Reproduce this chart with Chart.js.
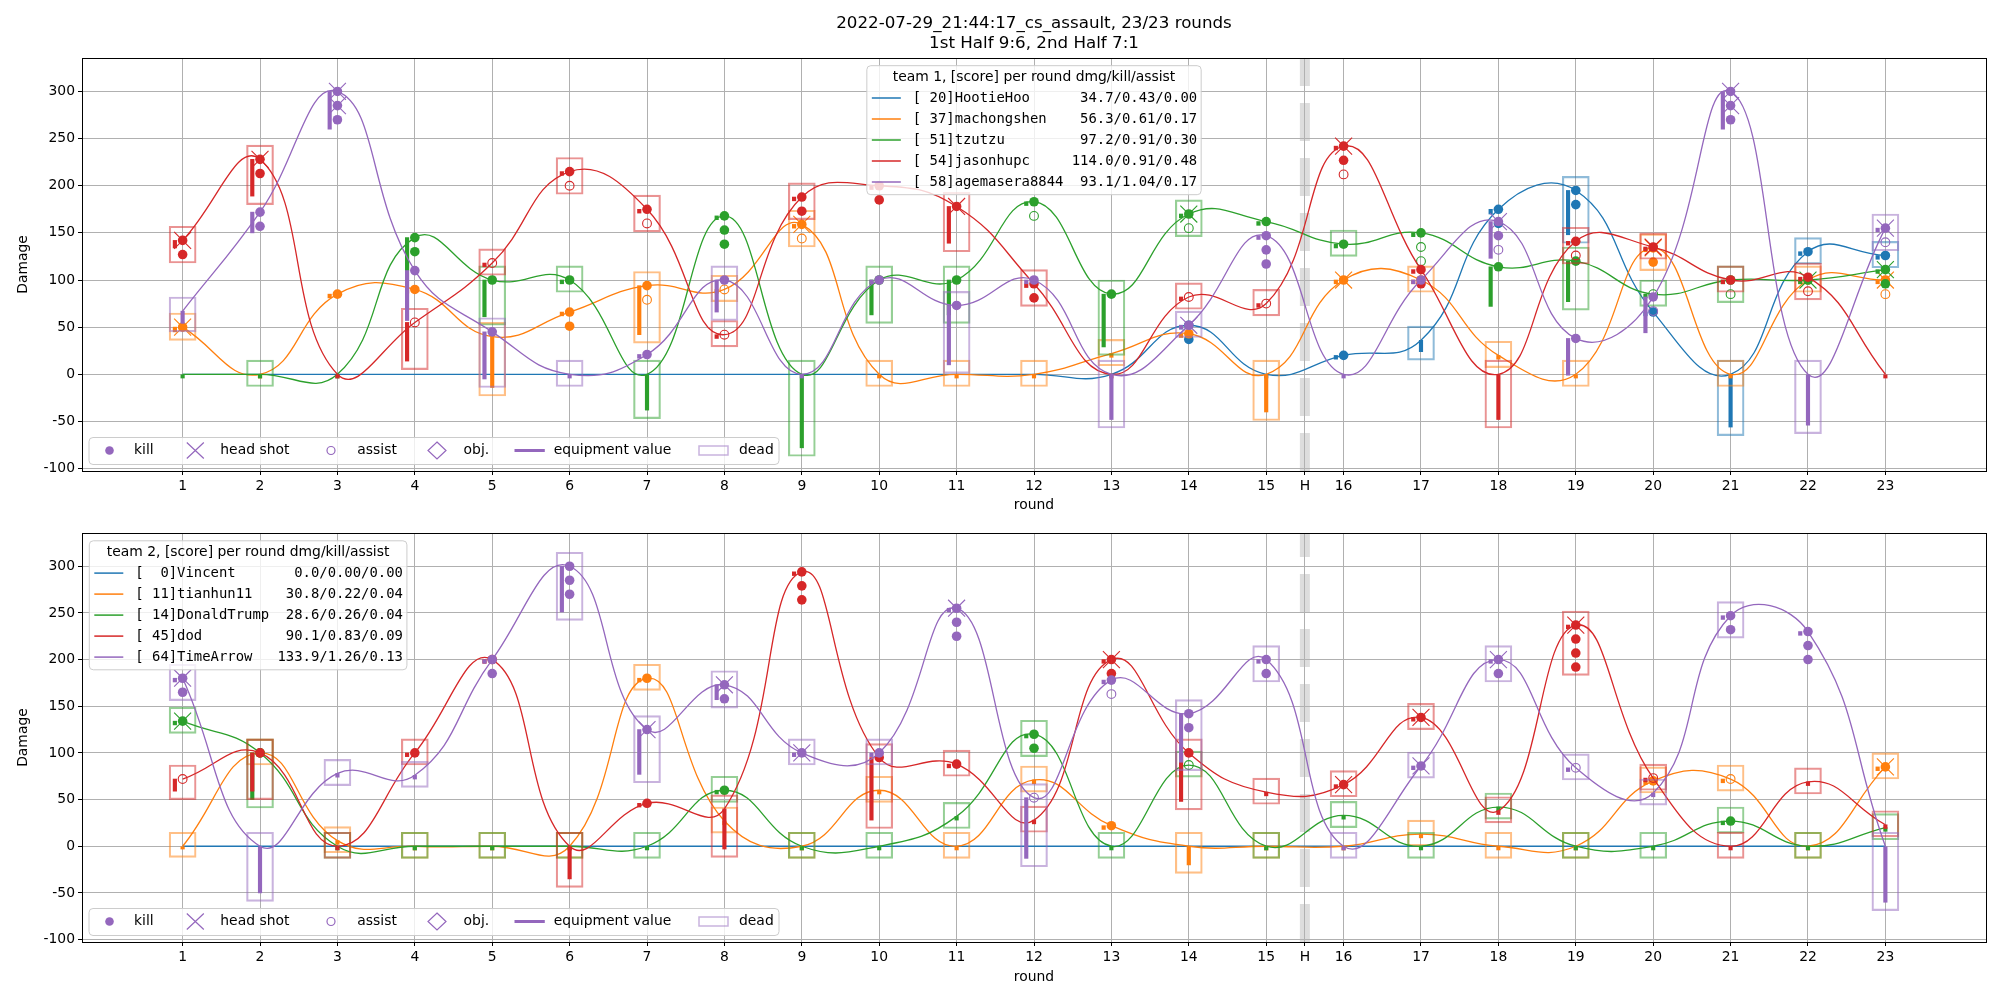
<!DOCTYPE html>
<html>
<head>
<meta charset="utf-8">
<script src="https://cdn.jsdelivr.net/npm/chart.js@4.4.1/dist/chart.umd.min.js"></script>
<style>
    body { margin: 0; background: #fff; }
    #wrap { position: relative; width: 2000px; height: 1000px; }
    .panel { position: absolute; left: 0; width: 2000px; }
</style>
</head>
<body>
<div id="wrap">
    <div class="panel" style="top:0;height:520px"><canvas id="team1" width="2000" height="520"></canvas></div>
    <div class="panel" style="top:520px;height:480px"><canvas id="team2" width="2000" height="480"></canvas></div>
</div>
<script>
// rounds and axis ticks
const rounds = [1, 2, 3, 4, 5, 6, 7, 8, 9, 10, 11, 12, 13, 14, 15, 16, 17, 18, 19, 20, 21, 22, 23];
const xTicks = [1, 2, 3, 4, 5, 6, 7, 8, 9, 10, 11, 12, 13, 14, 15, 15.5, 16, 17, 18, 19, 20, 21, 22, 23];
const xTickLabels = ['1', '2', '3', '4', '5', '6', '7', '8', '9', '10', '11', '12', '13', '14', '15', 'H', '16', '17', '18', '19', '20', '21', '22', '23'];
const yTicks = [-100, -50, 0, 50, 100, 150, 200, 250, 300];
const halfTime = 15.5;

const titleLines = ['2022-07-29_21:44:17_cs_assault, 23/23 rounds', '1st Half 9:6, 2nd Half 7:1'];
const markerLabels = ['kill', 'head shot', 'assist', 'obj.', 'equipment value', 'dead'];

const colors = ['#1f77b4', '#ff7f0e', '#2ca02c', '#d62728', '#9467bd'];
const faintColors = ['rgba(31,119,180,0.5)', 'rgba(255,127,14,0.5)', 'rgba(44,160,44,0.5)', 'rgba(214,39,40,0.5)', 'rgba(148,103,189,0.5)'];

// team 1
const t1Title = 'team 1, [score] per round dmg/kill/assist';
const t1Labels = [
    '[ 20]HootieHoo      34.7/0.43/0.00',
    '[ 37]machongshen    56.3/0.61/0.17',
    '[ 51]tzutzu         97.2/0.91/0.30',
    '[ 54]jasonhupc     114.0/0.91/0.48',
    '[ 58]agemasera8844  93.1/1.04/0.17'
];
const t1Dmg = [
    [0, 0, 0, 0, 0, 0, 0, 0, 0, 0, 0, 0, 0, 52, 0, 20, 36, 175, 195, 66, 0, 130, 126],
    [50, 0, 85, 90, 40, 66, 94, 90, 159, 0, 0, 0, 22, 43, 0, 100, 100, 20, 0, 134, 0, 100, 100],
    [0, 0, 0, 145, 100, 100, 0, 168, 0, 100, 100, 183, 85, 170, 162, 138, 150, 114, 120, 85, 100, 100, 111],
    [142, 228, 0, 55, 118, 215, 175, 42, 188, 200, 178, 96, 0, 82, 75, 242, 111, 0, 141, 135, 100, 103, 0],
    [67, 172, 300, 110, 45, 0, 21, 100, 0, 100, 73, 100, 0, 52, 147, 0, 100, 162, 38, 82, 300, 0, 155]
];
const t1Kills = [
    [0, 0, 0, 0, 0, 0, 0, 0, 0, 0, 0, 0, 0, 2, 0, 1, 0, 2, 2, 1, 0, 1, 1],
    [1, 0, 1, 1, 0, 2, 1, 0, 1, 0, 0, 0, 0, 1, 0, 1, 1, 0, 0, 2, 0, 1, 1],
    [0, 0, 0, 2, 1, 1, 0, 3, 0, 1, 1, 1, 1, 1, 1, 1, 1, 1, 1, 0, 1, 1, 2],
    [2, 2, 0, 0, 0, 1, 1, 0, 2, 2, 1, 2, 0, 0, 0, 2, 2, 0, 1, 1, 1, 1, 0],
    [0, 2, 3, 1, 1, 0, 1, 1, 0, 1, 1, 1, 0, 1, 3, 0, 1, 2, 1, 1, 3, 0, 1]
];
const t1Hs = [
    [0, 0, 0, 0, 0, 0, 0, 0, 0, 0, 0, 0, 0, 0, 0, 0, 0, 0, 0, 0, 0, 0, 0],
    [1, 0, 0, 0, 0, 0, 0, 0, 1, 0, 0, 0, 0, 0, 0, 1, 0, 0, 0, 1, 0, 0, 1],
    [0, 0, 0, 0, 0, 0, 0, 0, 0, 0, 0, 0, 0, 1, 0, 0, 0, 0, 0, 0, 0, 1, 1],
    [1, 1, 0, 0, 0, 0, 0, 0, 0, 0, 1, 0, 0, 0, 0, 1, 0, 0, 0, 1, 0, 0, 0],
    [0, 0, 2, 0, 0, 0, 0, 0, 0, 0, 0, 0, 0, 1, 0, 0, 0, 1, 0, 0, 2, 0, 1]
];
const t1Assist = [
    [0, 0, 0, 0, 0, 0, 0, 0, 0, 0, 0, 0, 0, 0, 0, 0, 0, 0, 0, 0, 0, 0, 0],
    [0, 0, 0, 0, 0, 0, 1, 1, 1, 0, 0, 0, 0, 0, 0, 0, 0, 0, 0, 0, 0, 0, 1],
    [0, 0, 0, 0, 0, 0, 0, 0, 0, 0, 0, 1, 0, 1, 0, 0, 2, 0, 0, 1, 1, 0, 0],
    [0, 0, 0, 1, 1, 1, 1, 1, 0, 0, 0, 0, 0, 1, 1, 1, 0, 0, 1, 0, 0, 1, 0],
    [0, 0, 0, 0, 0, 0, 0, 0, 0, 0, 0, 0, 0, 0, 0, 0, 0, 1, 0, 1, 0, 0, 1]
];
const t1Dead = [
    [0, 0, 0, 0, 0, 0, 0, 0, 0, 0, 0, 0, 0, 0, 0, 0, 1, 0, 1, 0, 1, 1, 1],
    [1, 0, 0, 0, 1, 0, 1, 1, 1, 1, 1, 1, 1, 0, 1, 0, 1, 1, 1, 1, 1, 1, 0],
    [0, 1, 0, 0, 1, 1, 1, 0, 1, 1, 1, 0, 1, 1, 0, 1, 0, 0, 1, 1, 1, 0, 0],
    [1, 1, 0, 1, 1, 1, 1, 1, 1, 0, 1, 1, 0, 1, 1, 0, 0, 1, 1, 1, 1, 1, 0],
    [1, 0, 0, 0, 1, 1, 0, 1, 0, 0, 1, 0, 1, 1, 0, 0, 0, 0, 0, 0, 0, 1, 1]
];
// equipment value / 100, drawn in damage units
const t1Equip = [
    [0, 0, 0, 0, 0, 0, 0, 0, 0, 0, 0, 0, 0, 4, 4, 4, 12, 5, 47, 4, 56, 4, 4],
    [5, 4, 4, 4, 54, 4, 52, 4, 4, 4, 4, 4, 4, 4, 40, 4, 4, 4, 4, 4, 4, 4, 4],
    [4, 4, 4, 35, 39, 4, 38, 4, 78, 37, 37, 4, 56, 4, 4, 4, 4, 42, 43, 4, 4, 4, 4],
    [8, 39, 4, 41, 4, 4, 4, 4, 4, 4, 39, 4, 4, 4, 4, 4, 4, 48, 4, 4, 4, 4, 4],
    [13, 22, 40, 53, 50, 4, 4, 34, 4, 4, 63, 4, 48, 4, 4, 4, 4, 39, 39, 38, 40, 54, 4]
];

// team 2
const t2Title = 'team 2, [score] per round dmg/kill/assist';
const t2Labels = [
    '[  0]Vincent       0.0/0.00/0.00',
    '[ 11]tianhun11    30.8/0.22/0.04',
    '[ 14]DonaldTrump  28.6/0.26/0.04',
    '[ 45]dod          90.1/0.83/0.09',
    '[ 64]TimeArrow   133.9/1.26/0.13'
];
const t2Dmg = [
    [0, 0, 0, 0, 0, 0, 0, 0, 0, 0, 0, 0, 0, 0, 0, 0, 0, 0, 0, 0, 0, 0, 0],
    [0, 100, 6, 0, 0, 0, 180, 27, 0, 60, 0, 71, 22, 0, 0, 0, 13, 0, 0, 70, 72, 0, 85],
    [134, 100, 0, 0, 0, 0, 0, 60, 0, 0, 32, 120, 0, 87, 0, 33, 0, 42, 0, 0, 27, 0, 20],
    [72, 100, 0, 100, 200, 0, 46, 40, 294, 95, 88, 28, 200, 100, 58, 66, 138, 38, 237, 73, 0, 69, 23],
    [180, 0, 78, 76, 200, 300, 125, 173, 100, 100, 255, 52, 178, 142, 200, 0, 86, 200, 84, 57, 247, 230, 0]
];
const t2Kills = [
    [0, 0, 0, 0, 0, 0, 0, 0, 0, 0, 0, 0, 0, 0, 0, 0, 0, 0, 0, 0, 0, 0, 0],
    [0, 1, 0, 0, 0, 0, 1, 0, 0, 0, 0, 0, 1, 0, 0, 0, 0, 0, 0, 1, 0, 0, 1],
    [1, 1, 0, 0, 0, 0, 0, 1, 0, 0, 0, 2, 0, 0, 0, 0, 0, 0, 0, 0, 1, 0, 0],
    [0, 1, 0, 1, 1, 0, 1, 0, 3, 1, 1, 0, 2, 1, 0, 1, 1, 0, 4, 0, 0, 0, 0],
    [2, 0, 0, 0, 2, 3, 1, 2, 1, 1, 3, 0, 1, 2, 2, 0, 1, 2, 0, 0, 2, 3, 0]
];
const t2Hs = [
    [0, 0, 0, 0, 0, 0, 0, 0, 0, 0, 0, 0, 0, 0, 0, 0, 0, 0, 0, 0, 0, 0, 0],
    [0, 0, 0, 0, 0, 0, 0, 0, 0, 0, 0, 0, 0, 0, 0, 0, 0, 0, 0, 0, 0, 0, 1],
    [1, 0, 0, 0, 0, 0, 0, 0, 0, 0, 0, 0, 0, 0, 0, 0, 0, 0, 0, 0, 0, 0, 0],
    [0, 0, 0, 0, 0, 0, 0, 0, 0, 0, 0, 0, 1, 0, 0, 1, 1, 0, 1, 0, 0, 0, 0],
    [1, 0, 0, 0, 0, 0, 1, 1, 1, 0, 1, 0, 0, 0, 0, 0, 1, 1, 0, 0, 0, 0, 0]
];
const t2Assist = [
    [0, 0, 0, 0, 0, 0, 0, 0, 0, 0, 0, 0, 0, 0, 0, 0, 0, 0, 0, 0, 0, 0, 0],
    [0, 0, 0, 0, 0, 0, 0, 0, 0, 0, 0, 0, 0, 0, 0, 0, 0, 0, 0, 0, 1, 0, 0],
    [0, 0, 0, 0, 0, 0, 0, 0, 0, 0, 0, 0, 0, 1, 0, 0, 0, 0, 0, 0, 0, 0, 0],
    [1, 0, 0, 0, 0, 0, 0, 0, 0, 0, 0, 0, 0, 0, 0, 0, 0, 0, 0, 1, 0, 0, 0],
    [0, 0, 0, 0, 0, 0, 0, 0, 0, 0, 0, 1, 1, 0, 0, 0, 0, 0, 1, 0, 0, 0, 0]
];
const t2Dead = [
    [0, 0, 0, 0, 0, 0, 0, 0, 0, 0, 0, 0, 0, 0, 0, 0, 0, 0, 0, 0, 0, 0, 0],
    [1, 1, 1, 1, 1, 1, 1, 1, 1, 1, 1, 1, 0, 1, 1, 0, 1, 1, 1, 1, 1, 1, 1],
    [1, 1, 1, 1, 1, 1, 1, 1, 1, 1, 1, 1, 1, 1, 1, 1, 1, 1, 1, 1, 1, 1, 1],
    [1, 1, 1, 1, 0, 1, 0, 1, 0, 1, 1, 1, 0, 1, 1, 1, 1, 1, 1, 1, 1, 1, 1],
    [1, 1, 1, 1, 0, 1, 1, 1, 1, 1, 0, 1, 0, 1, 1, 1, 1, 1, 1, 1, 1, 0, 1]
];
const t2Equip = [
    [0, 0, 0, 0, 0, 0, 0, 0, 0, 0, 0, 0, 0, 0, 0, 0, 0, 0, 0, 0, 0, 0, 0],
    [3, 4, 4, 4, 4, 4, 4, 4, 4, 4, 4, 4, 4, 20, 4, 4, 4, 4, 4, 4, 4, 4, 4],
    [4, 50, 4, 4, 4, 4, 4, 4, 4, 4, 4, 4, 4, 4, 4, 4, 4, 4, 4, 4, 4, 4, 4],
    [13, 41, 4, 4, 4, 35, 4, 43, 4, 67, 4, 4, 4, 52, 4, 4, 4, 4, 4, 4, 4, 4, 4],
    [4, 50, 4, 4, 4, 49, 48, 16, 4, 4, 4, 65, 4, 52, 4, 4, 4, 4, 4, 4, 4, 4, 60]
];

const markStep = 15;     // spacing of stacked kill/assist markers (damage units)
const equipShift = 0.1;  // equipment bar moves left when markers sit on the round
const FONT = '"DejaVu Sans", sans-serif';
const MONO = '"DejaVu Sans Mono", monospace';

Chart.defaults.font.family = FONT;
Chart.defaults.font.size = 13.9;
Chart.defaults.color = '#000';

function buildDatasets(dmg, kills, hs, assist, dead, equip) {
    const sets = [];
    let seq = 0;
    dmg.forEach((row, p) => {
        const killPts = [], hsPts = [], assistPts = [], equipBars = [], deadBars = [];
        rounds.forEach((r, i) => {
            const d = row[i];
            const k = kills[p][i], a = assist[p][i], e = equip[p][i];
            for (let j = 0; j < k; j++) killPts.push({ x: r, y: d - markStep * j });
            for (let j = 0; j < hs[p][i]; j++) hsPts.push({ x: r, y: d - markStep * j });
            for (let j = 0; j < a; j++) assistPts.push({ x: r, y: d - markStep * (k + j) });
            if (e > 0) equipBars.push({ x: (k + a) ? r - equipShift : r, y: [d - e, d] });
            if (dead[p][i]) {
                const low = Math.min(d - markStep * Math.max(k + a - 1, 0), d - e);
                deadBars.push({ x: r, y: [low - 9, d + 15] });
            }
        });
        sets.push({
            type: 'line', data: rounds.map((r, i) => ({ x: r, y: row[i] })),
            borderColor: colors[p], borderWidth: 1.3, pointRadius: 0, tension: 0.45, fill: false, order: -(seq++)
        });
        sets.push({
            type: 'bar', data: equipBars, backgroundColor: colors[p], borderWidth: 0,
            barThickness: 3.5, grouped: false, order: -(seq++)
        });
        sets.push({
            type: 'bar', data: deadBars, backgroundColor: 'rgba(0,0,0,0)', borderColor: faintColors[p],
            borderWidth: 1.5, borderSkipped: false, barThickness: 27, grouped: false, order: -(seq++)
        });
        sets.push({
            type: 'line', data: killPts, showLine: false, pointStyle: 'circle', pointRadius: 4.8,
            pointBackgroundColor: colors[p], pointBorderColor: colors[p], pointBorderWidth: 0, order: -(seq++)
        });
        sets.push({
            type: 'line', data: hsPts, showLine: false, pointStyle: 'crossRot', pointRadius: 12,
            pointBorderColor: colors[p], pointBorderWidth: 1.1, order: -(seq++)
        });
        sets.push({
            type: 'line', data: assistPts, showLine: false, pointStyle: 'circle', pointRadius: 4.4,
            pointBackgroundColor: 'rgba(0,0,0,0)', pointBorderColor: colors[p], pointBorderWidth: 1.1, order: -(seq++)
        });
    });
    return sets;
}

function roundRect(ctx, x, y, w, h, r) {
    ctx.beginPath();
    ctx.moveTo(x + r, y);
    ctx.arcTo(x + w, y, x + w, y + h, r);
    ctx.arcTo(x + w, y + h, x, y + h, r);
    ctx.arcTo(x, y + h, x, y, r);
    ctx.arcTo(x, y, x + w, y, r);
    ctx.closePath();
}

function drawTeamLegend(ctx, area, title, labels, centered) {
    ctx.save();
    ctx.font = '13.9px ' + MONO;
    const textW = Math.max(...labels.map(s => ctx.measureText(s).width));
    const w = 46 + textW + 4, h = 129;
    const left = centered ? (area.left + area.right) / 2 - w / 2 : area.left + 7.3;
    const top = area.top + 7.7;
    roundRect(ctx, left, top, w, h, 4);
    ctx.fillStyle = 'rgba(255,255,255,0.8)';
    ctx.fill();
    ctx.strokeStyle = '#cccccc';
    ctx.lineWidth = 1;
    ctx.stroke();
    ctx.fillStyle = '#000';
    ctx.textBaseline = 'middle';
    ctx.textAlign = 'center';
    ctx.font = '13.9px ' + FONT;
    ctx.fillText(title, left + w / 2, top + 11.5);
    ctx.textAlign = 'left';
    ctx.font = '13.9px ' + MONO;
    labels.forEach((s, i) => {
        const y = top + 32.3 + 21 * i;
        ctx.strokeStyle = colors[i];
        ctx.lineWidth = 1.5;
        ctx.beginPath();
        ctx.moveTo(left + 5, y);
        ctx.lineTo(left + 34, y);
        ctx.stroke();
        ctx.fillText(s, left + 46, y);
    });
    ctx.restore();
}

function drawMarkerLegend(ctx, area) {
    const c = colors[4];
    const x0 = area.left;
    const cy = area.bottom - 20.5;
    ctx.save();
    roundRect(ctx, x0 + 7, area.bottom - 33.5, 690, 27, 4);
    ctx.fillStyle = 'rgba(255,255,255,0.8)';
    ctx.fill();
    ctx.strokeStyle = '#cccccc';
    ctx.lineWidth = 1;
    ctx.stroke();
    // kill
    ctx.fillStyle = c;
    ctx.beginPath(); ctx.arc(x0 + 27.5, cy, 4.3, 0, Math.PI * 2); ctx.fill();
    // head shot
    ctx.strokeStyle = c; ctx.lineWidth = 1.2;
    ctx.beginPath();
    ctx.moveTo(x0 + 113.3 - 8.5, cy - 8); ctx.lineTo(x0 + 113.3 + 8.5, cy + 8);
    ctx.moveTo(x0 + 113.3 - 8.5, cy + 8); ctx.lineTo(x0 + 113.3 + 8.5, cy - 8);
    ctx.stroke();
    // assist
    ctx.beginPath(); ctx.arc(x0 + 249, cy, 4, 0, Math.PI * 2); ctx.stroke();
    // obj.
    ctx.beginPath();
    ctx.moveTo(x0 + 355, cy - 8.5); ctx.lineTo(x0 + 364, cy); ctx.lineTo(x0 + 355, cy + 8.5); ctx.lineTo(x0 + 346, cy);
    ctx.closePath(); ctx.stroke();
    // equipment value
    ctx.lineWidth = 3;
    ctx.beginPath(); ctx.moveTo(x0 + 432.5, cy); ctx.lineTo(x0 + 462.8, cy); ctx.stroke();
    // dead
    ctx.strokeStyle = faintColors[4]; ctx.lineWidth = 1.5;
    ctx.strokeRect(x0 + 617, cy - 4.5, 29, 9);
    ctx.fillStyle = '#000';
    ctx.font = '13.9px ' + FONT;
    ctx.textBaseline = 'middle';
    ctx.textAlign = 'left';
    const textX = [52, 138.3, 275.3, 381.6, 471.7, 657];
    markerLabels.forEach((s, i) => ctx.fillText(s, x0 + textX[i], cy));
    ctx.restore();
}

function decor(opts) {
    return {
        id: 'decor',
        beforeDatasetsDraw(chart) {
            const { ctx, chartArea: a, scales } = chart;
            const px = scales.x.getPixelForValue(halfTime);
            ctx.save();
            ctx.beginPath();
            ctx.rect(a.left, a.top, a.width, a.height);
            ctx.clip();
            ctx.strokeStyle = 'rgba(180,180,180,0.45)';
            ctx.lineWidth = 10;
            ctx.setLineDash([38, 17]);
            ctx.beginPath();
            ctx.moveTo(px, a.bottom);
            ctx.lineTo(px, a.top);
            ctx.stroke();
            ctx.restore();
        },
        afterDraw(chart) {
            const { ctx, chartArea: a } = chart;
            drawTeamLegend(ctx, a, opts.legendTitle, opts.labels, opts.centered);
            drawMarkerLegend(ctx, a);
            ctx.save();
            ctx.strokeStyle = '#000';
            ctx.lineWidth = 1;
            ctx.strokeRect(Math.round(a.left) + 0.5, Math.round(a.top) + 0.5, Math.round(a.width), Math.round(a.height));
            if (opts.title) {
                ctx.fillStyle = '#000';
                ctx.font = '16.7px ' + FONT;
                ctx.textAlign = 'center';
                ctx.textBaseline = 'middle';
                opts.title.forEach((s, i) => ctx.fillText(s, (a.left + a.right) / 2, 24 + 20 * i));
            }
            ctx.restore();
        }
    };
}

function makeChart(id, sets, opts) {
    const ctx = document.getElementById(id).getContext('2d');
    return new Chart(ctx, {
        type: 'line',
        data: { datasets: sets },
        options: {
            responsive: false,
            animation: false,
            devicePixelRatio: 1,
            events: [],
            layout: { padding: { top: opts.padTop, right: 14, left: 0, bottom: 0 } },
            plugins: { legend: { display: false }, tooltip: { enabled: false }, title: { display: false } },
            scales: {
                x: {
                    type: 'linear', min: -0.3, max: 24.3, offset: false,
                    afterBuildTicks: s => { s.ticks = xTicks.map(v => ({ value: v })); },
                    afterFit: s => { s.height = opts.xHeight; },
                    ticks: {
                        autoSkip: false, maxRotation: 0, minRotation: 0, padding: 3, color: '#000',
                        callback: v => xTickLabels[xTicks.indexOf(v)]
                    },
                    grid: { offset: false, color: '#b0b0b0', lineWidth: 1, drawTicks: true, tickLength: 4, tickColor: '#000' },
                    border: { display: false },
                    title: { display: true, text: 'round', color: '#000', padding: { top: 0, bottom: opts.xTitlePad } }
                },
                y: {
                    type: 'linear', min: -102.6, max: 335.5,
                    afterBuildTicks: s => { s.ticks = yTicks.map(v => ({ value: v })); },
                    afterFit: s => { s.width = 82; },
                    ticks: { padding: 3, color: '#000' },
                    grid: { offset: false, color: '#b0b0b0', lineWidth: 1, drawTicks: true, tickLength: 4, tickColor: '#000' },
                    border: { display: false },
                    title: { display: true, text: 'Damage', color: '#000', padding: { top: 14.7, bottom: 0 } }
                }
            }
        },
        plugins: [decor(opts)]
    });
}

makeChart('team1', buildDatasets(t1Dmg, t1Kills, t1Hs, t1Assist, t1Dead, t1Equip), {
    padTop: 58, xHeight: 49, xTitlePad: 6.7,
    legendTitle: t1Title, labels: t1Labels, centered: true, title: titleLines
});
makeChart('team2', buildDatasets(t2Dmg, t2Kills, t2Hs, t2Assist, t2Dead, t2Equip), {
    padTop: 9, xHeight: 58, xTitlePad: 14.7,
    legendTitle: t2Title, labels: t2Labels, centered: false, title: null
});
</script>
</body>
</html>
